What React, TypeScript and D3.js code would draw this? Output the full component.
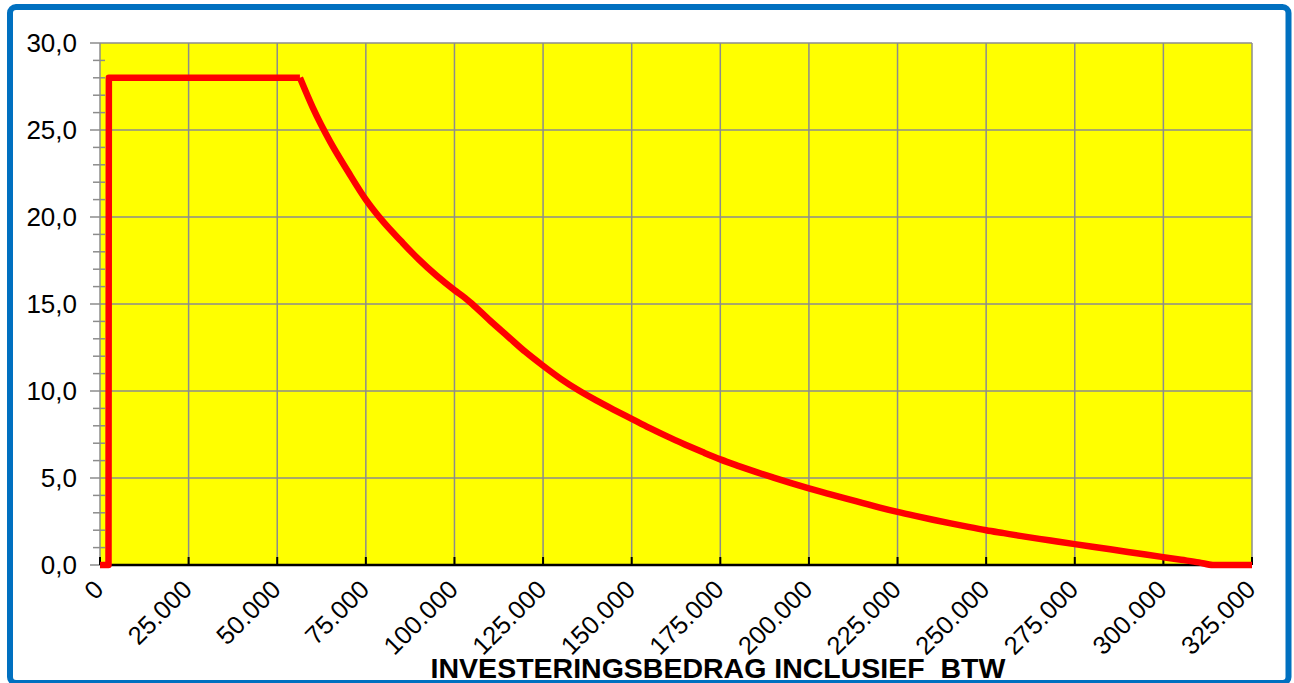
import * as d3 from "d3";
import { useEffect, useRef } from "react";

// investment amount incl. VAT (euro) and subsidy percentage
const bedrag = [
  0, 2400, 2500, 56400, 60000, 65000, 70000, 75000, 80000, 85000, 90000, 95000,
  100000, 103000, 105000, 110000, 115000, 120000, 125000, 130000, 135000,
  140000, 145000, 150000, 155000, 160000, 165000, 170000, 175000, 180000,
  185000, 190000, 195000, 200000, 205000, 210000, 215000, 220000, 225000,
  230000, 235000, 240000, 245000, 250000, 255000, 260000, 265000, 270000,
  275000, 280000, 285000, 290000, 295000, 300000, 305000, 310000, 314000,
  325000,
];
const procent = [
  0, 0, 28, 28, 26.3, 24.3, 22.6, 21.0, 19.7, 18.6, 17.55, 16.62, 15.8, 15.35,
  15.0, 14.05, 13.15, 12.25, 11.45, 10.7, 10.04, 9.46, 8.92, 8.4, 7.88, 7.39,
  6.93, 6.49, 6.07, 5.7, 5.35, 5.02, 4.7, 4.4, 4.12, 3.84, 3.57, 3.3, 3.05,
  2.82, 2.6, 2.39, 2.19, 2.0, 1.83, 1.66, 1.5, 1.35, 1.2, 1.05, 0.9, 0.75, 0.6,
  0.45, 0.3, 0.15, 0, 0,
];
const xTicks = [
  0, 25000, 50000, 75000, 100000, 125000, 150000, 175000, 200000, 225000,
  250000, 275000, 300000, 325000,
];
const yTicks = [0, 5, 10, 15, 20, 25, 30];
const titel = "INVESTERINGSBEDRAG INCLUSIEF  BTW";

const W = 1294;
const H = 683;
const FONT = "'Liberation Sans', Arial, sans-serif";

export default function App() {
  const ref = useRef<SVGSVGElement>(null);

  useEffect(() => {
    const svg = d3.select(ref.current);
    svg.selectAll("*").remove();

    const left = 100,
      right = 1252,
      top = 43,
      bottom = 565;

    const x = d3.scaleLinear().domain([0, 325000]).range([left, right]);
    const y = d3.scaleLinear().domain([0, 30]).range([bottom, top]);

    // outer blue frame
    svg
      .append("rect")
      .attr("x", 10)
      .attr("y", 7)
      .attr("width", 1278.5)
      .attr("height", 676)
      .attr("rx", 6)
      .attr("fill", "#fff")
      .attr("stroke", "#0070C0")
      .attr("stroke-width", 6);

    // plot area
    svg
      .append("rect")
      .attr("x", left)
      .attr("y", top)
      .attr("width", right - left)
      .attr("height", bottom - top)
      .attr("fill", "#FFFF00");

    const grid = svg.append("g").attr("stroke", "#8c8c8c").attr("stroke-width", 1.5);
    grid
      .selectAll("line.h")
      .data(yTicks.filter((d) => d > 0))
      .join("line")
      .attr("x1", left - 10)
      .attr("x2", right)
      .attr("y1", (d) => y(d))
      .attr("y2", (d) => y(d));
    grid
      .selectAll("line.v")
      .data(xTicks.filter((d) => d > 0))
      .join("line")
      .attr("x1", (d) => x(d))
      .attr("x2", (d) => x(d))
      .attr("y1", top)
      .attr("y2", bottom);
    // y axis line
    grid
      .append("line")
      .attr("x1", left)
      .attr("x2", left)
      .attr("y1", top)
      .attr("y2", bottom);
    // minor ticks every 1,0
    grid
      .selectAll("line.minor")
      .data(d3.range(1, 30).filter((d) => d % 5 !== 0))
      .join("line")
      .attr("x1", left - 7)
      .attr("x2", left + 5)
      .attr("y1", (d) => y(d))
      .attr("y2", (d) => y(d));
    grid
      .append("line")
      .attr("x1", left - 10)
      .attr("x2", left)
      .attr("y1", y(0))
      .attr("y2", y(0));

    // x axis
    svg
      .append("line")
      .attr("x1", left)
      .attr("x2", right)
      .attr("y1", bottom)
      .attr("y2", bottom)
      .attr("stroke", "#000")
      .attr("stroke-width", 2.5);
    svg
      .append("g")
      .selectAll("line")
      .data(xTicks)
      .join("line")
      .attr("x1", (d) => x(d))
      .attr("x2", (d) => x(d))
      .attr("y1", bottom)
      .attr("y2", bottom - 8)
      .attr("stroke", "#000")
      .attr("stroke-width", 2);

    // y labels
    svg
      .append("g")
      .selectAll("text")
      .data(yTicks)
      .join("text")
      .attr("x", 77)
      .attr("y", (d) => y(d) + 9)
      .attr("text-anchor", "end")
      .attr("font-family", FONT)
      .attr("font-size", 26)
      .attr("fill", "#000")
      .text((d) => d3.format(".1f")(d).replace(".", ","));

    // x labels
    const fmt = (d: number) => d3.format(",")(d).replace(/,/g, ".");
    svg
      .append("g")
      .selectAll("text")
      .data(xTicks)
      .join("text")
      .attr("transform", (d) => `translate(${x(d) + 5},${591}) rotate(-45)`)
      .attr("text-anchor", "end")
      .attr("font-family", FONT)
      .attr("font-size", 25.5)
      .attr("fill", "#000")
      .text((d) => fmt(d));

    // the curve: straight step and plateau, smooth decline afterwards
    const pts = bedrag.map((b, i) => [b, procent[i]] as [number, number]);
    const knik = bedrag.indexOf(56400);
    const lijn = (curve: d3.CurveFactory) =>
      d3
        .line<[number, number]>()
        .x((d) => x(d[0]))
        .y((d) => y(d[1]))
        .curve(curve);
    svg
      .append("path")
      .attr("d", lijn(d3.curveLinear)(pts.slice(0, knik + 1)))
      .attr("fill", "none")
      .attr("stroke", "#FF0000")
      .attr("stroke-width", 6.5)
      .attr("stroke-linejoin", "round");
    svg
      .append("path")
      .attr("d", lijn(d3.curveMonotoneX)(pts.slice(knik)))
      .attr("fill", "none")
      .attr("stroke", "#FF0000")
      .attr("stroke-width", 6.5)
      .attr("stroke-linejoin", "round");

    // axis title
    svg
      .append("text")
      .attr("x", 718)
      .attr("y", 678)
      .attr("text-anchor", "middle")
      .attr("font-family", FONT)
      .attr("font-size", 28.5)
      .attr("font-weight", "bold")
      .style("white-space", "pre")
      .attr("fill", "#000")
      .text(titel);
  }, []);

  return (
    <svg
      ref={ref}
      width={W}
      height={H}
      style={{ position: "absolute", left: 0, top: 0, background: "#fff" }}
    />
  );
}
